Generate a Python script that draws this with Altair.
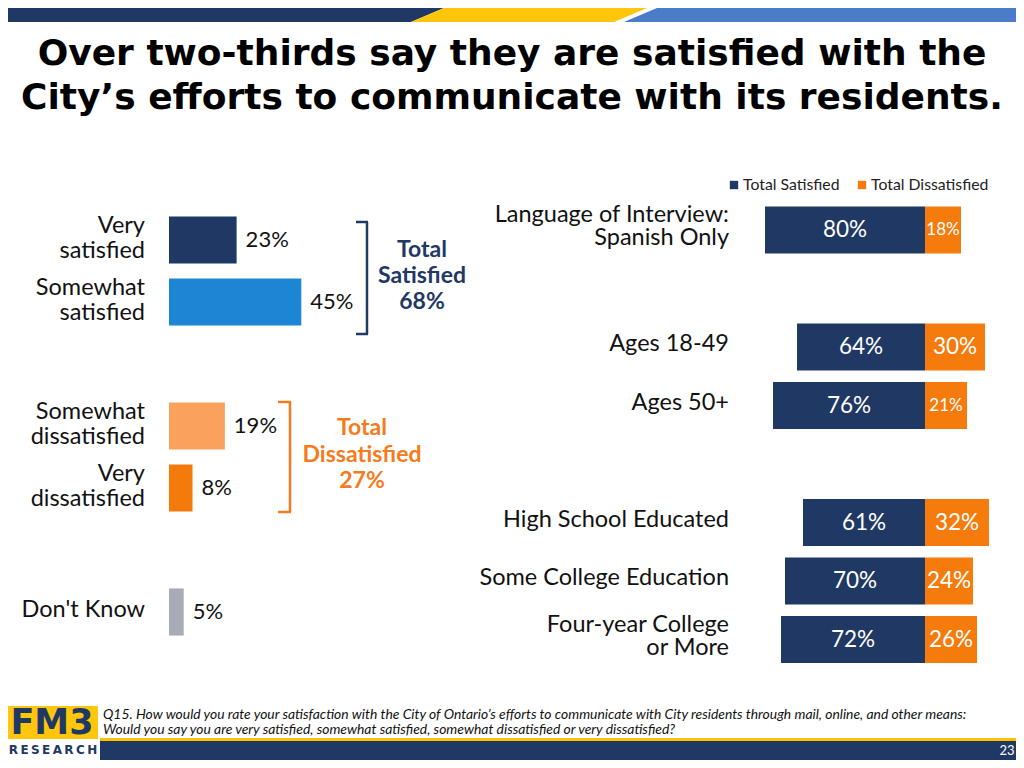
import altair as alt
import pandas as pd

# ---------------- data ----------------
left_cats = ["Very satisfied", "Somewhat satisfied", "Somewhat dissatisfied",
             "Very dissatisfied", "Don't Know"]
left_labels = ["Very\nsatisfied", "Somewhat\nsatisfied", "Somewhat\ndissatisfied",
               "Very\ndissatisfied", "Don't Know"]
left_values = [23, 45, 19, 8, 5]
left_colors = ["#1F3864", "#1C86D4", "#F9A25B", "#F47A0C", "#A9ABB8"]

right_keys = ["spanish", "age1849", "age50", "hs", "somecol", "college"]
right_labels = ["Language of Interview:\nSpanish Only", "Ages 18-49", "Ages 50+",
                "High School Educated", "Some College Education",
                "Four-year College\nor More"]
total_satisfied = [80, 64, 76, 61, 70, 72]
total_dissatisfied = [18, 30, 21, 32, 24, 26]
series_names = ["Total Satisfied", "Total Dissatisfied"]
series_colors = ["#1F3864", "#F57B0C"]

title_lines = ["Over two-thirds say they are satisfied with the",
               "City\u2019s efforts to communicate with its residents."]
footer_lines = ["Q15. How would you rate your satisfaction with the City of Ontario\u2019s efforts to communicate with City residents through mail, online, and other means:",
                "Would you say you are very satisfied, somewhat satisfied, somewhat dissatisfied or very dissatisfied?"]

NAVY = "#1F3864"
ORANGE = "#F47B20"
FONT = "Lato"

W, H = 1008, 752

# ---------------- tables ----------------
left_df = pd.DataFrame({"cat": left_cats, "label": left_labels, "value": left_values})
left_df["pct"] = left_df["value"].astype(str) + "%"
left_df["nlines"] = left_df["label"].str.count("\n") + 1

rows = []
for k, lab, s, d in zip(right_keys, right_labels, total_satisfied, total_dissatisfied):
    rows.append(dict(key=k, label=lab, type=series_names[0], start=-s, end=0, value=s))
    rows.append(dict(key=k, label=lab, type=series_names[1], start=0, end=d, value=d))
right_df = pd.DataFrame(rows)
right_df["pct"] = right_df["value"].astype(str) + "%"
right_lab_df = pd.DataFrame({"key": right_keys, "label": right_labels})
right_lab_df["nlines"] = right_lab_df["label"].str.count("\n") + 1

# ---------------- scales ----------------
left_domain = ["Very satisfied", "Somewhat satisfied", "_g1", "Somewhat dissatisfied",
               "Very dissatisfied", "_g2", "Don't Know"]
yL = alt.Y("cat:N", scale=alt.Scale(domain=left_domain, range=[201, 635],
                                     paddingInner=0.24, paddingOuter=0.12), axis=None)
xL_scale = alt.Scale(domain=[0, 100], range=[161, 455])

right_domain = ["spanish", "_r1", "age1849", "age50", "_r2", "hs", "somecol", "college"]
yR = alt.Y("key:N", scale=alt.Scale(domain=right_domain, range=[192.75, 660.75],
                                     paddingInner=0.2, paddingOuter=0.1), axis=None)
xR_scale = alt.Scale(domain=[-100, 50], range=[717, 1017])


def poly(points, color):
    xs = [p[0] for p in points]
    ys = [p[1] for p in points]
    cx, cy = (min(xs) + max(xs)) / 2, (min(ys) + max(ys)) / 2
    half = max(max(xs) - min(xs), max(ys) - min(ys)) / 2
    path = "M " + " L ".join(f"{(x - cx) / half:.5f} {(y - cy) / half:.5f}" for x, y in points) + " Z"
    return alt.Chart(pd.DataFrame({"a": [0]})).mark_point(
        shape=path, filled=True, opacity=1, strokeWidth=0, color=color, size=(2 * half) ** 2
    ).encode(x=alt.value(cx), y=alt.value(cy))


one = pd.DataFrame({"a": [0]})


def rect(x, x2, y, y2, color):
    return alt.Chart(one).mark_rect(color=color).encode(
        x=alt.value(x), x2=alt.value(x2), y=alt.value(y), y2=alt.value(y2))


def rule(x, x2, y, y2, color, w=2.5):
    return alt.Chart(one).mark_rule(color=color, strokeWidth=w).encode(
        x=alt.value(x), x2=alt.value(x2), y=alt.value(y), y2=alt.value(y2))


def text(t, x, y, size, color="#000000", weight="normal", align="left", font=FONT,
         style="normal", lh=None):
    kw = dict(text=t, fontSize=size, color=color, fontWeight=weight, align=align,
              baseline="middle", font=font, fontStyle=style, lineBreak="\n")
    if lh:
        kw["lineHeight"] = lh
    return alt.Chart(one).mark_text(**kw).encode(x=alt.value(x), y=alt.value(y))


layers = []

# top banner
layers.append(poly([(0, 0), (436, 0), (403, 14), (0, 14)], NAVY))
layers.append(poly([(436, 0), (639, 0), (606, 14), (403, 14)], "#FFC60B"))
layers.append(poly([(649, 0), (1008, 0), (1008, 14), (616, 14)], "#4A7CC9"))

# title
layers.append(text("\n".join(title_lines), 504, 46, 36, weight="bold",
                   align="center", font="DejaVu Sans", lh=44))

# legend
for i, (name, col) in enumerate(zip(series_names, series_colors)):
    sx = [726, 854][i]
    layers.append(alt.Chart(one).mark_square(color=col, filled=True, opacity=1, size=70)
                  .encode(x=alt.value(sx), y=alt.value(177)))
    layers.append(text(name, sx + 9, 177, 15.8, color="#222222"))

# left bars
layers.append(alt.Chart(left_df).mark_bar().encode(
    y=yL,
    x=alt.X("value:Q", scale=xL_scale, axis=None),
    x2=alt.datum(0),
    color=alt.Color("cat:N", scale=alt.Scale(domain=left_cats, range=left_colors), legend=None),
))
layers.append(alt.Chart(left_df).mark_text(align="left", baseline="middle", dx=9,
                                           fontSize=22, font=FONT, color="#111111").encode(
    y=yL, x=alt.X("value:Q", scale=xL_scale, axis=None), text="pct:N"))
for n, dy in [(1, -2), (2, -14.5)]:
    layers.append(alt.Chart(left_df).transform_filter(alt.datum.nlines == n)
                  .mark_text(align="right", baseline="middle", fontSize=23.5, font=FONT,
                             color="#111111", lineBreak="\n", lineHeight=25, dy=dy).encode(
        y=yL, x=alt.value(137), text="label:N"))

# brackets
layers.append(rule(359, 359, 214, 326, NAVY))
layers.append(rule(348, 360, 214, 214, NAVY))
layers.append(rule(348, 360, 326, 326, NAVY))
layers.append(text("Total\nSatisfied\n68%", 414, 242, 23, color=NAVY, weight="bold",
                   align="center", lh=26))
layers.append(rule(282, 282, 394, 504, ORANGE))
layers.append(rule(270, 283, 394, 394, ORANGE))
layers.append(rule(270, 283, 504, 504, ORANGE))
layers.append(text("Total\nDissatisfied\n27%", 354, 420, 23, color=ORANGE, weight="bold",
                   align="center", lh=26.5))

# right bars
layers.append(alt.Chart(right_df).mark_bar().encode(
    y=yR,
    x=alt.X("start:Q", scale=xR_scale, axis=None),
    x2="end:Q",
    color=alt.Color("type:N", scale=alt.Scale(domain=series_names, range=series_colors),
                    legend=None),
))
layers.append(alt.Chart(right_df).transform_calculate(mid="(datum.start + datum.end) / 2")
              .mark_text(align="center", baseline="middle", font=FONT, color="white").encode(
    y=yR,
    x=alt.X("mid:Q", scale=xR_scale, axis=None),
    text="pct:N",
    size=alt.condition(alt.datum.value < 22, alt.value(17), alt.value(22.5)),
))
for n, dy in [(1, -3), (2, -15)]:
    layers.append(alt.Chart(right_lab_df).transform_filter(alt.datum.nlines == n)
                  .mark_text(align="right", baseline="middle", fontSize=23.5, font=FONT,
                             color="#111111", lineBreak="\n", lineHeight=23, dy=dy).encode(
        y=yR, x=alt.value(721), text="label:N"))

# footer
layers.append(rect(-6, 90, 698, 731, "#FFC60B"))
layers.append(text("FM3", 44, 715, 35, color=NAVY, weight="bold", align="center",
                   font="DejaVu Sans"))
layers.append(text("R\u2009E\u2009S\u2009E\u2009A\u2009R\u2009C\u2009H", 45, 742, 12,
                   color=NAVY, weight="bold", align="center", font="DejaVu Sans"))
layers.append(rect(92, W, 730, 733, "#FFC000"))
layers.append(rect(92, W, 733, H, NAVY))
layers.append(text("23", 999, 743, 13, color="white", align="center"))
layers.append(text("\n".join(footer_lines), 95, 707, 13.9, color="#111111",
                   style="italic", lh=15))

chart = alt.layer(*layers).resolve_scale(
    x="independent", y="independent", color="independent", size="independent"
).properties(width=W, height=H, autosize="none", padding=0).configure_view(stroke=None)

chart.save("out.html", embed_options={"renderer": "svg", "actions": False})
